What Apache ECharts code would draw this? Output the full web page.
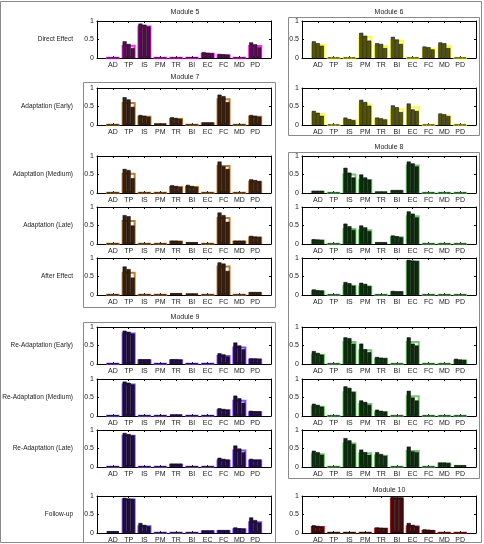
<!DOCTYPE html>
<html>
<head>
<meta charset="utf-8">
<script src="https://cdn.jsdelivr.net/npm/echarts@6/dist/echarts.min.js"></script>
<style>
  html, body { margin: 0; padding: 0; background: #fff; }
  #chart { width: 484px; height: 544px; }
</style>
</head>
<body>
<div id="chart"></div>
<script>
// categories and row names
var cats = ['AD', 'TP', 'IS', 'PM', 'TR', 'BI', 'EC', 'FC', 'MD', 'PD'];
var rowNames = ['Direct Effect', 'Adaptation (Early)', 'Adaptation (Medium)', 'Adaptation (Late)',
  'After Effect', 'Re-Adaptation (Early)', 'Re-Adaptation (Medium)', 'Re-Adaptation (Late)', 'Follow-up'];

// Module 5
var m5DirectMean = [0.01, 0.36, 0.88, 0.01, 0.01, 0.02, 0.14, 0.10, 0.01, 0.35];
var m5DirectBars = [[.01,.01,.01],[.45,.38,.27],[.93,.90,.85],[.01,.01,.01],[.01,.01,.01],[.02,.02,.02],[.16,.14,.13],[.11,.10,.09],[.01,.01,.01],[.42,.37,.29]];

// Module 7
var m7EarlyMean = [0.01, 0.62, 0.25, 0.04, 0.19, 0.01, 0.07, 0.72, 0.01, 0.25];
var m7EarlyBars = [[.01,.01,.01],[.75,.69,.49],[.27,.25,.22],[.04,.04,.04],[.21,.19,.16],[.01,.01,.01],[.07,.07,.07],[.82,.78,.62],[.01,.01,.01],[.27,.25,.22]];
var m7MediumMean = [0.01, 0.55, 0.01, 0.01, 0.19, 0.19, 0.01, 0.76, 0.01, 0.33];
var m7MediumBars = [[.01,.01,.01],[.65,.62,.40],[.01,.01,.01],[.01,.01,.01],[.21,.19,.16],[.22,.19,.16],[.01,.01,.01],[.85,.72,.65],[.01,.01,.01],[.37,.35,.32]];
var m7LateMean = [0.01, 0.65, 0.01, 0.01, 0.09, 0.05, 0.01, 0.73, 0.09, 0.20];
var m7LateBars = [[.01,.01,.01],[.78,.75,.50],[.01,.01,.01],[.01,.01,.01],[.09,.09,.08],[.05,.05,.05],[.01,.01,.01],[.85,.78,.60],[.09,.09,.09],[.22,.20,.19]];
var m7AfterMean = [0.01, 0.63, 0.01, 0.01, 0.05, 0.04, 0.01, 0.80, 0.01, 0.08];
var m7AfterBars = [[.01,.01,.01],[.77,.70,.47],[.01,.01,.01],[.01,.01,.01],[.05,.05,.05],[.04,.04,.04],[.01,.01,.01],[.88,.85,.65],[.01,.01,.01],[.08,.08,.08]];

// Module 9
var m9EarlyMean = [0.02, 0.85, 0.13, 0.02, 0.13, 0.02, 0.02, 0.24, 0.47, 0.15];
var m9EarlyBars = [[.02,.02,.02],[.90,.87,.82],[.13,.13,.13],[.02,.02,.02],[.13,.13,.12],[.02,.02,.02],[.02,.02,.02],[.29,.26,.20],[.58,.50,.40],[.15,.15,.14]];
var m9MediumMean = [0.02, 0.88, 0.02, 0.02, 0.04, 0.02, 0.02, 0.18, 0.44, 0.13];
var m9MediumBars = [[.02,.02,.02],[.93,.90,.85],[.02,.02,.02],[.02,.02,.02],[.04,.04,.04],[.02,.02,.02],[.02,.02,.02],[.21,.19,.17],[.55,.48,.36],[.14,.13,.13]];
var m9LateMean = [0.02, 0.87, 0.02, 0.02, 0.09, 0.02, 0.02, 0.20, 0.47, 0.20];
var m9LateBars = [[.02,.02,.02],[.92,.89,.85],[.02,.02,.02],[.02,.02,.02],[.09,.09,.09],[.02,.02,.02],[.02,.02,.02],[.25,.22,.20],[.58,.50,.40],[.22,.20,.20]];
var m9FollowMean = [0.05, 0.93, 0.21, 0.02, 0.02, 0.02, 0.07, 0.08, 0.13, 0.32];
var m9FollowBars = [[.05,.05,.05],[.95,.93,.92],[.27,.22,.18],[.02,.02,.02],[.02,.02,.02],[.02,.02,.02],[.07,.07,.07],[.08,.08,.08],[.15,.13,.12],[.42,.35,.28]];

// Module 6
var m6DirectMean = [0.38, 0.01, 0.01, 0.60, 0.35, 0.49, 0.01, 0.28, 0.36, 0.01];
var m6DirectBars = [[.45,.40,.33],[.01,.01,.01],[.01,.01,.01],[.68,.60,.47],[.40,.38,.27],[.57,.50,.38],[.01,.01,.01],[.31,.29,.23],[.42,.40,.27],[.01,.01,.01]];
var m6EarlyMean = [0.33, 0.01, 0.16, 0.58, 0.17, 0.45, 0.51, 0.01, 0.28, 0.01];
var m6EarlyBars = [[.38,.33,.25],[.01,.01,.01],[.20,.16,.13],[.68,.62,.52],[.20,.18,.15],[.53,.48,.35],[.58,.42,.38],[.01,.01,.01],[.31,.29,.24],[.01,.01,.01]];

// Module 8
var m8MediumMean = [0.06, 0.01, 0.53, 0.38, 0.04, 0.08, 0.77, 0.01, 0.01, 0.01];
var m8MediumBars = [[.06,.06,.06],[.01,.01,.01],[.68,.55,.42],[.50,.42,.36],[.04,.04,.04],[.08,.08,.08],[.85,.80,.72],[.01,.01,.01],[.01,.01,.01],[.01,.01,.01]];
var m8LateMean = [0.12, 0.01, 0.43, 0.40, 0.05, 0.21, 0.78, 0.01, 0.01, 0.01];
var m8LateBars = [[.13,.12,.11],[.01,.01,.01],[.55,.48,.38],[.50,.45,.35],[.05,.05,.05],[.23,.21,.18],[.88,.82,.72],[.01,.01,.01],[.01,.01,.01],[.01,.01,.01]];
var m8AfterMean = [0.13, 0.01, 0.28, 0.26, 0.01, 0.10, 0.93, 0.01, 0.01, 0.01];
var m8AfterBars = [[.15,.13,.12],[.01,.01,.01],[.35,.32,.25],[.33,.30,.24],[.01,.01,.01],[.11,.10,.10],[.95,.93,.92],[.01,.01,.01],[.01,.01,.01],[.01,.01,.01]];
var m8ReEarlyMean = [0.28, 0.01, 0.62, 0.40, 0.17, 0.01, 0.62, 0.01, 0.01, 0.12];
var m8ReEarlyBars = [[.35,.30,.25],[.01,.01,.01],[.72,.70,.55],[.55,.40,.32],[.19,.17,.16],[.01,.01,.01],[.72,.55,.50],[.01,.01,.01],[.01,.01,.01],[.14,.12,.11]];
var m8ReMediumMean = [0.28, 0.01, 0.67, 0.35, 0.13, 0.01, 0.56, 0.01, 0.01, 0.01];
var m8ReMediumBars = [[.33,.30,.25],[.01,.01,.01],[.80,.76,.65],[.42,.38,.30],[.17,.14,.12],[.01,.01,.01],[.68,.50,.42],[.01,.01,.01],[.01,.01,.01],[.01,.01,.01]];
var m8ReLateMean = [0.37, 0.01, 0.66, 0.40, 0.33, 0.01, 0.46, 0.01, 0.12, 0.05];
var m8ReLateBars = [[.44,.40,.33],[.01,.01,.01],[.78,.72,.62],[.47,.40,.33],[.40,.35,.30],[.01,.01,.01],[.55,.42,.40],[.01,.01,.01],[.12,.12,.11],[.05,.05,.05]];

// Module 10
var m10FollowMean = [0.19, 0.02, 0.02, 0.02, 0.14, 0.96, 0.20, 0.08, 0.01, 0.01];
var m10FollowBars = [[.21,.19,.17],[.02,.02,.02],[.02,.02,.02],[.02,.02,.02],[.15,.14,.13],[.97,.96,.96],[.27,.22,.18],[.10,.09,.08],[.01,.01,.01],[.01,.01,.01]];

// colours per module: dark fill for thin bars, bright edge for mean bar
var pal5 = { fill: '#5a0a52', edge: '#ff22ff' };
var pal7 = { fill: '#3b200c', edge: '#c07a30' };
var pal9 = { fill: '#230c45', edge: '#7a4cff' };
var pal6 = { fill: '#55550a', edge: '#ffff30' };
var pal8 = { fill: '#0b2e0b', edge: '#6ccc6c' };
var pal10 = { fill: '#4a0808', edge: '#b02828' };

var panels = [
  { col: 0, row: 0, mean: m5DirectMean, bars: m5DirectBars, pal: pal5 },
  { col: 0, row: 1, mean: m7EarlyMean, bars: m7EarlyBars, pal: pal7 },
  { col: 0, row: 2, mean: m7MediumMean, bars: m7MediumBars, pal: pal7 },
  { col: 0, row: 3, mean: m7LateMean, bars: m7LateBars, pal: pal7 },
  { col: 0, row: 4, mean: m7AfterMean, bars: m7AfterBars, pal: pal7 },
  { col: 0, row: 5, mean: m9EarlyMean, bars: m9EarlyBars, pal: pal9 },
  { col: 0, row: 6, mean: m9MediumMean, bars: m9MediumBars, pal: pal9 },
  { col: 0, row: 7, mean: m9LateMean, bars: m9LateBars, pal: pal9 },
  { col: 0, row: 8, mean: m9FollowMean, bars: m9FollowBars, pal: pal9 },
  { col: 1, row: 0, mean: m6DirectMean, bars: m6DirectBars, pal: pal6 },
  { col: 1, row: 1, mean: m6EarlyMean, bars: m6EarlyBars, pal: pal6 },
  { col: 1, row: 2, mean: m8MediumMean, bars: m8MediumBars, pal: pal8 },
  { col: 1, row: 3, mean: m8LateMean, bars: m8LateBars, pal: pal8 },
  { col: 1, row: 4, mean: m8AfterMean, bars: m8AfterBars, pal: pal8 },
  { col: 1, row: 5, mean: m8ReEarlyMean, bars: m8ReEarlyBars, pal: pal8 },
  { col: 1, row: 6, mean: m8ReMediumMean, bars: m8ReMediumBars, pal: pal8 },
  { col: 1, row: 7, mean: m8ReLateMean, bars: m8ReLateBars, pal: pal8 },
  { col: 1, row: 8, mean: m10FollowMean, bars: m10FollowBars, pal: pal10 }
];

// layout
var rowTops = [21, 88, 156, 207, 258, 327, 379, 430, 496];
var rowH = 37;
var colLeft = [97, 302];
var plotW = 174;
var FONT = '"Liberation Sans", Arial, sans-serif';

var grids = [], xAxes = [], yAxes = [], series = [];

panels.forEach(function (p, i) {
  grids.push({ left: colLeft[p.col], top: rowTops[p.row], width: plotW, height: rowH });
  var axLine = { show: true, onZero: false, lineStyle: { color: '#000', width: 1 } };
  var tick = { show: true, inside: true, length: 2, lineStyle: { color: '#000' } };
  xAxes.push({
    type: 'value', gridIndex: i, position: 'bottom', min: 0, max: 11, interval: 1,
    axisLine: axLine, axisTick: tick, splitLine: { show: false },
    axisLabel: {
      fontSize: 7, fontFamily: FONT, color: '#222', margin: 4,
      formatter: function (v) { return cats[v - 1] || ''; }
    }
  });
  xAxes.push({
    type: 'value', gridIndex: i, position: 'top', min: 0, max: 11, interval: 1,
    axisLine: axLine, axisTick: tick, splitLine: { show: false }, axisLabel: { show: false }
  });
  yAxes.push({
    type: 'value', gridIndex: i, position: 'left', min: 0, max: 1, interval: 0.5,
    axisLine: axLine, axisTick: tick, splitLine: { show: false },
    axisLabel: { fontSize: 7, fontFamily: FONT, color: '#222', margin: 3 }
  });
  yAxes.push({
    type: 'value', gridIndex: i, position: 'right', min: 0, max: 1, interval: 0.5,
    axisLine: axLine, axisTick: tick, splitLine: { show: false }, axisLabel: { show: false }
  });

  series.push({
    type: 'bar', xAxisIndex: 2 * i, yAxisIndex: 2 * i, barWidth: 14, z: 2,
    itemStyle: { color: '#fff', borderColor: p.pal.edge, borderWidth: 2 },
    data: p.mean.map(function (v, k) { return [k + 1, v]; })
  });
  for (var s = 0; s < 3; s++) {
    series.push({
      type: 'bar', xAxisIndex: 2 * i + 1, yAxisIndex: 2 * i, barWidth: 4, barGap: '0%', z: 3,
      itemStyle: { color: p.pal.fill, borderColor: '#000', borderWidth: 0.5 },
      data: p.bars.map(function (b, k) { return [k + 1, b[s]]; })
    });
  }
});

// frames, module titles and row labels
var graphic = [];
function box(x, y, w, h) {
  graphic.push({
    type: 'rect', shape: { x: x + 0.5, y: y + 0.5, width: w, height: h }, silent: true,
    style: { fill: 'none', stroke: '#8a8a8a', lineWidth: 1 }
  });
}
function label(txt, x, y, align, size) {
  graphic.push({
    type: 'text', x: x, y: y, silent: true,
    style: { text: txt, fontSize: size, fontFamily: FONT, fill: '#222', align: align, verticalAlign: 'middle' }
  });
}
box(0, 1, 481, 541);
box(83, 82, 192, 225);
box(83, 322, 192, 220);
box(288, 17, 191, 118);
box(288, 152, 191, 326);
label('Module 5', 185, 12, 'center', 7);
label('Module 7', 185, 77, 'center', 7);
label('Module 9', 185, 317, 'center', 7);
label('Module 6', 389, 12, 'center', 7);
label('Module 8', 389, 147, 'center', 7);
label('Module 10', 389, 490, 'center', 7);
rowNames.forEach(function (n, r) { label(n, 73, rowTops[r] + rowH / 2, 'right', 6.5); });

var chart = echarts.init(document.getElementById('chart'), null, { renderer: 'canvas' });
chart.setOption({
  animation: false,
  backgroundColor: '#fff',
  grid: grids,
  xAxis: xAxes,
  yAxis: yAxes,
  series: series,
  graphic: graphic
});
</script>
</body>
</html>
